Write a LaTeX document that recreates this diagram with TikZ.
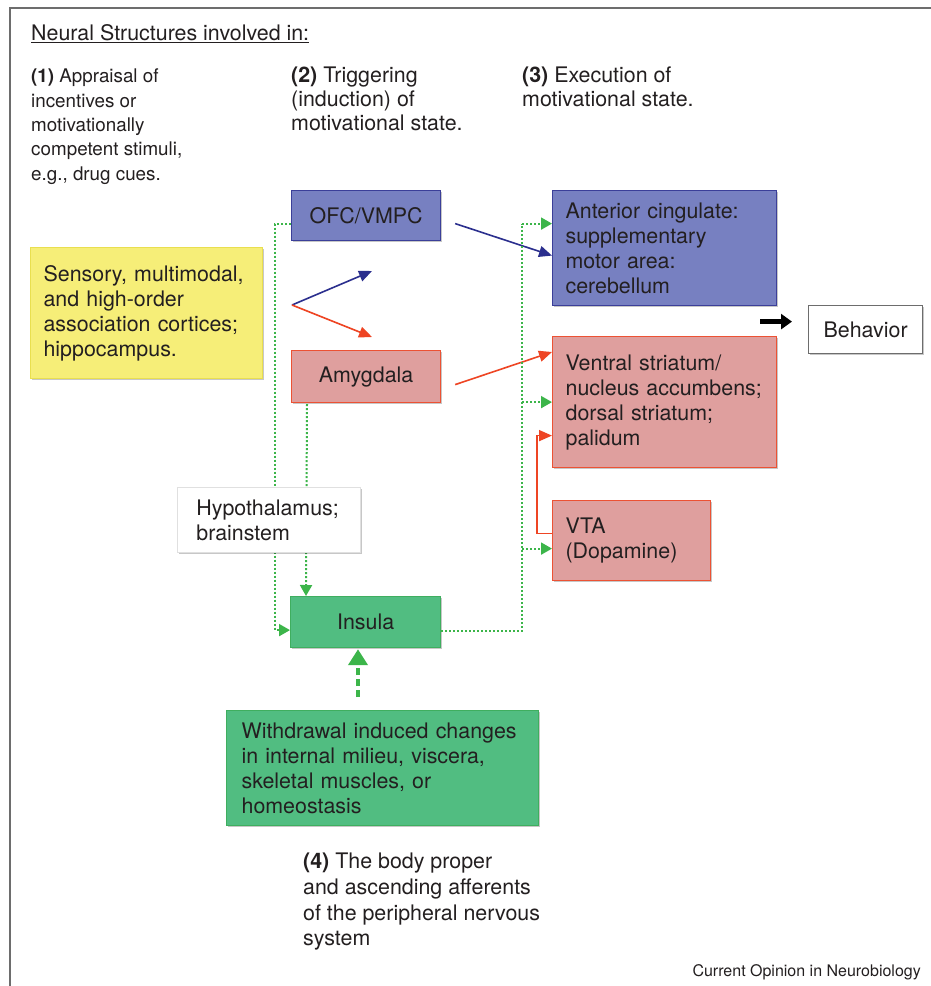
\documentclass[tikz,border=0pt]{standalone}
\usepackage{fontspec}
\setmainfont{TeX Gyre Heros}
\usetikzlibrary{arrows.meta,calc,shadows}
\definecolor{txt}{HTML}{231F20}
\definecolor{frame}{HTML}{6D6D6D}
\definecolor{blueFill}{HTML}{7780C1}
\definecolor{blueLine}{HTML}{3B3F99}
\definecolor{blueArr}{HTML}{2B2F8E}
\definecolor{pinkFill}{HTML}{DF9F9E}
\definecolor{pinkLine}{HTML}{EC5234}
\definecolor{redArr}{HTML}{EE4524}
\definecolor{yelFill}{HTML}{F6EE78}
\definecolor{yelLine}{HTML}{E9DF4F}
\definecolor{grnFill}{HTML}{51BD81}
\definecolor{grnLine}{HTML}{3FAE5F}
\definecolor{grnDot}{HTML}{3CB54A}
\newcommand\mybody{\fontsize{21.4}{25}\selectfont}
\newcommand\myhead{\fontsize{21.4}{24}\selectfont}
\newcommand\mysmall{\fontsize{18.8}{24.3}\selectfont}
\newcommand\mybottom{\fontsize{21.4}{25.6}\selectfont}
\newcommand\mysrc{\fontsize{16}{19}\selectfont}
\begin{document}
\begin{tikzpicture}[x=1pt,y=-1pt,
  box/.style={draw, rectangle, anchor=north west, inner ysep=0pt, font=\mybody, text=txt, line width=1.2pt,
    drop shadow={shadow xshift=1.5pt, shadow yshift=-1.5pt, opacity=0.22, fill=black}},
  bluebox/.style={box, fill=blueFill, draw=blueLine},
  pinkbox/.style={box, fill=pinkFill, draw=pinkLine},
  greenbox/.style={box, fill=grnFill, draw=grnLine},
  label/.style={inner sep=0pt, text=txt, align=left},
  gdot/.style={draw=grnDot, line width=2pt, dash pattern=on 2pt off 2pt},
  gtip/.style={-{Triangle[length=11pt,width=12pt,fill=grnDot,color=grnDot]}},
  barrow/.style={draw=blueArr, line width=1.6pt, -{Triangle[length=13pt,width=11pt]}},
  rarrow/.style={draw=redArr, line width=1.6pt, -{Triangle[length=13pt,width=11pt]}},
]
\useasboundingbox (0,0) rectangle (931,986);
\fill[white] (0,0) rectangle (931,986);
\draw[frame, line width=2.5pt] (10,986) -- (10,8) -- (931,8);

% header texts
\node[label, anchor=base west, font=\mybody] (title) at (31,40) {\underline{Neural Structures involved in:}};
\node[label, anchor=north west, font=\mysmall] (h1) at (31,69) {\textbf{(1)} Appraisal of\\incentives or\\motivationally\\competent stimuli,\\e.g., drug cues.};
\node[label, anchor=north west, font=\myhead] (h2) at (291,67) {\textbf{(2)} Triggering\\(induction) of\\motivational state.};
\node[label, anchor=north west, font=\myhead] (h3) at (522,67) {\textbf{(3)} Execution of\\motivational state.};
\node[label, anchor=north west, font=\mybottom] (h4) at (303,853) {\textbf{(4)} The body proper\\and ascending afferents\\of the peripheral nervous\\system};
\node[label, anchor=base east, font=\mysrc] (src) at (921,976) {Current Opinion in Neurobiology};

% boxes
\node[bluebox, minimum width=149pt, minimum height=50pt, align=center] (ofc) at (291,190) {OFC/VMPC};
\node[bluebox, minimum width=224pt, minimum height=115pt, inner xsep=13pt, text width=198pt, align=left] (acc) at (552,190) {Anterior cingulate:\\supplementary\\motor area:\\cerebellum};
\node[box, fill=yelFill, draw=yelLine, minimum width=232pt, minimum height=131pt, inner xsep=13pt, text width=206pt, align=left] (yel) at (30,247) {Sensory, multimodal,\\and high-order\\association cortices;\\hippocampus.};
\node[pinkbox, minimum width=149pt, minimum height=52pt, align=center] (amy) at (291,350) {Amygdala};
\node[pinkbox, minimum width=224pt, minimum height=131pt, inner xsep=13pt, text width=198pt, align=left] (vs) at (552,336) {Ventral striatum/\\nucleus accumbens;\\dorsal striatum;\\palidum};
\node[box, fill=white, draw=frame, minimum width=114pt, minimum height=48pt, align=center] (beh) at (808,305) {Behavior};
\node[pinkbox, minimum width=158pt, minimum height=80pt, inner xsep=13pt, text width=132pt, align=left] (vta) at (552,500) {VTA\\(Dopamine)};
\node[greenbox, minimum width=150pt, minimum height=51pt, align=center] (ins) at (290,596) {Insula};
\node[greenbox, minimum width=312pt, minimum height=115pt, inner xsep=15pt, text width=282pt, align=left] (wd) at (226,710) {Withdrawal induced changes\\in internal milieu, viscera,\\skeletal muscles, or\\homeostasis};

% connectors
\coordinate (br) at (292,305);
\coordinate (bt) at (372,271);
\coordinate (rt) at (372,337);
\draw[barrow] (br) -- (bt);
\draw[rarrow] (br) -- (rt);
\draw[barrow] ($(ofc.east)+(14,8)$) -- ($(acc.west)+(0,7.5)$);
\draw[rarrow] ($(amy.east)+(14,8)$) -- ($(vs.north west)+(0,16)$);

% green dotted (left side)
\draw[gdot, gtip] ($(ofc.west)+(0,8)$) -- ++(-16,0) |- ($(ins.west)+(0,8)$);
\draw[gdot, gtip] ($(amy.south west)+(16,1)$) -- ($(ins.north west)+(16,0)$);

% green dotted (right side)
\coordinate (gtop) at ($(acc.west)+(-30,-24.5)$);
\draw[gdot] ($(ins.east)+(0,9)$) -| (gtop);
\draw[gdot, gtip] (gtop) -- ($(acc.west)+(0,-24.5)$);
\draw[gdot, gtip] (gtop |- vs.west) -- (vs.west);
\draw[gdot, gtip] ($(gtop |- vta.west)+(0,8)$) -- ($(vta.west)+(0,8)$);

% red VTA -> striatum
\draw[rarrow] ($(vta.west)+(0,-7)$) -- ++(-15,0) |- ($(vs.west)+(0,33.5)$);

% thick dashed green arrow
\draw[draw=grnDot, line width=4pt, dash pattern=on 7pt off 4pt, -{Triangle[length=16pt,width=19pt,fill=grnDot,color=grnDot]}] ($(wd.north west)+(132,-13)$) -- ($(ins.south west)+(68,1)$);

% behavior arrow
\draw[draw=black, line width=4.5pt, -{Triangle[length=11pt,width=15pt]}] ($(beh.west)+(-48,-8)$) -- ($(beh.west)+(-16,-8)$);

% hypothalamus box drawn over dotted lines
\node[box, fill=white, draw=white!88!black, line width=0.8pt, minimum width=181pt, minimum height=65pt, inner xsep=19pt, text width=145pt, align=left] (hyp) at (177,487) {Hypothalamus;\\brainstem};
\end{tikzpicture}
\end{document}
